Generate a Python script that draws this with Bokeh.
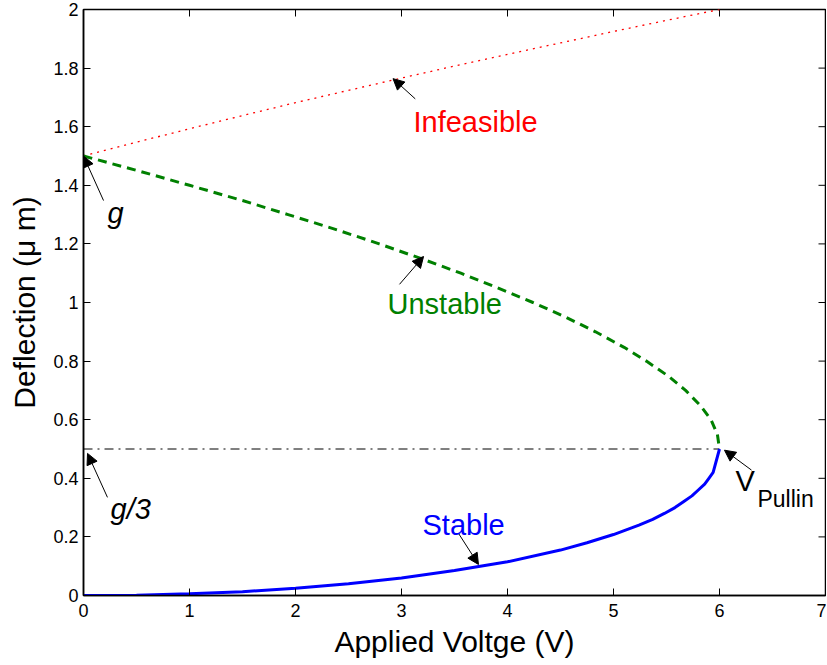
import math
from bokeh.plotting import figure
from bokeh.models import Range1d, Label, Arrow, NormalHead, FixedTicker
from bokeh.embed import file_html
from bokeh.resources import INLINE

# ---- data ----
stable_v = [0, 0.5, 1.0, 1.5, 2.0, 2.5, 3.0, 3.5, 4.0, 4.5, 4.75, 5.0, 5.24, 5.37, 5.48, 5.58, 5.66, 5.74, 5.8, 5.86, 5.9, 5.94, 6.0]
stable_y = [0, 0.001, 0.006, 0.013, 0.025, 0.04, 0.06, 0.085, 0.115, 0.155, 0.18, 0.208, 0.24, 0.26, 0.28, 0.30, 0.32, 0.34, 0.36, 0.38, 0.40, 0.42, 0.5]

unstable_v = [0, 0.5, 1.0, 1.5, 1.93, 2.4, 2.79, 3.2, 3.56, 3.9, 4.24, 4.55, 4.83, 5.1, 5.31, 5.52, 5.68, 5.82, 5.92, 5.98, 6.0]
unstable_y = [1.5, 1.451, 1.4, 1.348, 1.3, 1.247, 1.2, 1.148, 1.1, 1.051, 1.0, 0.95, 0.9, 0.847, 0.8, 0.748, 0.7, 0.648, 0.6, 0.55, 0.5]

infeasible_v = [0, 0.5, 1.0, 1.5, 2.0, 2.5, 3.0, 3.5, 4.0, 4.5, 5.0, 5.5, 6.0]
infeasible_y = [1.5, 1.547, 1.593, 1.638, 1.682, 1.724, 1.766, 1.807, 1.847, 1.886, 1.925, 1.963, 2.0]

pullin_v = [0, 6.0]
pullin_y = [0.5, 0.5]

x_ticks = [0, 1, 2, 3, 4, 5, 6, 7]
y_ticks = [0, 0.2, 0.4, 0.6, 0.8, 1.0, 1.2, 1.4, 1.6, 1.8, 2.0]
y_tick_labels = ["0", "0.2", "0.4", "0.6", "0.8", "1", "1.2", "1.4", "1.6", "1.8", "2"]

FONT = "Liberation Sans"
X_MIN, X_MAX = 0, 7
Y_MIN, Y_MAX = 0, 2

p = figure(width=826, height=665, x_range=Range1d(X_MIN, X_MAX), y_range=Range1d(Y_MIN, Y_MAX),
           output_backend="svg", toolbar_location=None,
           min_border_left=83, min_border_right=1, min_border_top=9, min_border_bottom=70)
p.grid.visible = False
p.outline_line_color = "black"
p.outline_line_width = 1.5
p.background_fill_color = "white"
p.border_fill_color = "white"

for ax in (p.xaxis[0], p.yaxis[0]):
    ax.major_tick_in = 7
    ax.major_tick_out = 0
    ax.minor_tick_in = 0
    ax.minor_tick_out = 0
    ax.axis_line_color = "black"
    ax.axis_line_width = 1.5
    ax.major_tick_line_width = 1
    ax.major_label_text_font = FONT
    ax.major_label_text_font_size = "18px"
    ax.major_label_text_color = "black"
    ax.axis_label_text_font = FONT
    ax.axis_label_text_font_size = "30px"
    ax.axis_label_text_font_style = "normal"
    ax.axis_label_text_color = "black"

p.xaxis[0].ticker = FixedTicker(ticks=x_ticks)
p.yaxis[0].ticker = FixedTicker(ticks=y_ticks)
p.yaxis[0].major_label_overrides = dict(zip(y_ticks, y_tick_labels))
p.xaxis[0].axis_label = "Applied Voltge (V)"
p.yaxis[0].axis_label = "Deflection (\u03bc m)"
p.xaxis[0].major_label_standoff = 8
p.yaxis[0].major_label_standoff = 5
p.xaxis[0].axis_label_standoff = 5
p.yaxis[0].axis_label_standoff = 9

# inward tick marks on the top and right edges of the box (clipped to the frame)
p.scatter(x_ticks, [Y_MAX] * len(x_ticks), marker="dash", size=14, angle=math.pi / 2,
          line_color="black", line_width=1)
p.scatter([X_MAX] * len(y_ticks), y_ticks, marker="dash", size=14,
          line_color="black", line_width=1)

# curves
p.line(infeasible_v, infeasible_y, line_color="#ff0000", line_width=1.3, line_dash="2 5")
p.line(unstable_v, unstable_y, line_color="#008000", line_width=3, line_dash="9 6")
p.line(pullin_v, pullin_y, line_color="black", line_width=1, line_dash="9 5 2 5")
p.line(stable_v, stable_y, line_color="#0000ff", line_width=3)

# annotations
def arrow(xs, ys, xe, ye):
    p.add_layout(Arrow(end=NormalHead(size=11, fill_color="black", line_color="black", line_width=1),
                       x_start=xs, y_start=ys, x_end=xe, y_end=ye,
                       line_color="black", line_width=1))

arrow(3.13, 1.695, 2.92, 1.764)
arrow(2.981, 1.062, 3.208, 1.157)
arrow(3.538, 0.212, 3.726, 0.106)
arrow(0.189, 1.348, 0.0, 1.5)
arrow(0.226, 0.335, 0.038, 0.485)
arrow(6.302, 0.428, 6.047, 0.496)

def label(x, y, text, color="black", size="29px", style="normal"):
    p.add_layout(Label(x=x, y=y, text=text, text_color=color, text_font=FONT,
                       text_font_size=size, text_font_style=style,
                       text_baseline="alphabetic", text_align="left"))

label(3.113, 1.617, "Infeasible", "#ff0000")
label(2.868, 0.996, "Unstable", "#008000")
label(3.198, 0.24, "Stable", "#0000ff")
label(0.226, 1.306, "g", style="italic")
label(0.255, 0.294, "g/3", style="italic")
label(6.151, 0.39, "V", size="29px")
label(6.358, 0.329, "Pullin", size="23px")

open("out.html", "w").write(file_html(p, INLINE))
